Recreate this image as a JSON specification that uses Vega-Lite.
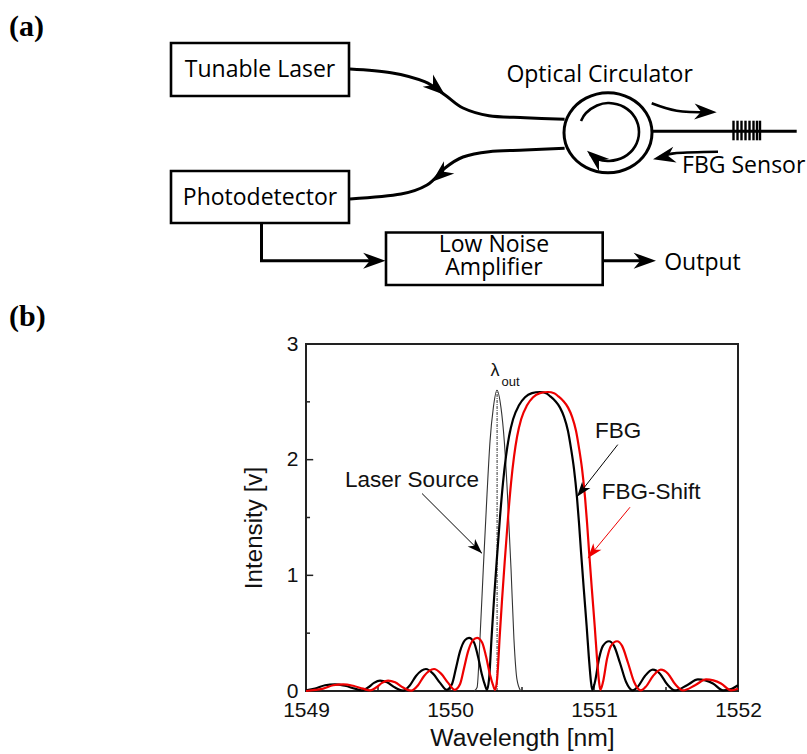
{
"$schema":"https://vega.github.io/schema/vega-lite/v6.json",
"padding":0,
"background":"white",
"autosize":{"type":"pad"},
"bounds":"flush",
"spacing":0,
"config":{"concat":{"spacing":0},"view":{"stroke":null}},
"vconcat":[
{
 "width":807,"height":344,
 "view":{"stroke":null},
 "encoding":{
  "x":{"field":"x","type":"quantitative","axis":null,"scale":{"domain":[0,807],"nice":false,"zero":false}},
  "y":{"field":"y","type":"quantitative","axis":null,"scale":{"domain":[344,0],"nice":false,"zero":false}}
 },
 "layer":[
  {"data":{"values":[
    {"part":"Tunable Laser","x":171,"x2":349,"y":43,"y2":96},
    {"part":"Photodetector","x":171,"x2":349,"y":171,"y2":223},
    {"part":"Low Noise Amplifier","x":386,"x2":602.7,"y":232.5,"y2":285}
   ]},
   "mark":{"type":"rect","fill":"white","stroke":"black","strokeWidth":2.6},
   "encoding":{"x2":{"field":"x2"},"y2":{"field":"y2"}}
  },
  {"data":{"values":[
    {"path":"up","o":0,"x":350,"y":69},{"path":"up","o":1,"x":391,"y":72.7},{"path":"up","o":2,"x":424.6,"y":81.7},{"path":"up","o":3,"x":445,"y":95},{"path":"up","o":4,"x":463,"y":108},{"path":"up","o":5,"x":489,"y":115.7},{"path":"up","o":6,"x":525,"y":117.7},{"path":"up","o":7,"x":564.6,"y":119.3},
    {"path":"low","o":0,"x":564.6,"y":148.3},{"path":"low","o":1,"x":525,"y":150},{"path":"low","o":2,"x":489,"y":151.7},{"path":"low","o":3,"x":463,"y":157},{"path":"low","o":4,"x":445,"y":168},{"path":"low","o":5,"x":427,"y":185},{"path":"low","o":6,"x":401,"y":194},{"path":"low","o":7,"x":350,"y":199}
   ]},
   "mark":{"type":"line","stroke":"black","strokeWidth":3,"interpolate":"cardinal"},
   "encoding":{"detail":{"field":"path"},"order":{"field":"o"}}
  },
  {"data":{"values":[
    {"path":"right","o":0,"x":652.6,"y":131.3},{"path":"right","o":1,"x":796.7,"y":131.3},
    {"path":"pd","o":0,"x":261.5,"y":223},{"path":"pd","o":1,"x":261.5,"y":260.7},{"path":"pd","o":2,"x":375,"y":260.7},
    {"path":"amp","o":0,"x":602.7,"y":260.7},{"path":"amp","o":1,"x":645,"y":260.7}
   ]},
   "mark":{"type":"line","stroke":"black","strokeWidth":3},
   "encoding":{"detail":{"field":"path"},"order":{"field":"o"}}
  },
  {"data":{"values":[
    {"path":"out","o":0,"x":651.7,"y":103.3},{"path":"out","o":1,"x":676.7,"y":110.7},{"path":"out","o":2,"x":710,"y":112.3},
    {"path":"back","o":0,"x":718,"y":151.7},{"path":"back","o":1,"x":676.7,"y":153},{"path":"back","o":2,"x":660,"y":157},
    {"path":"inner","o":0,"x":581,"y":121},{"path":"inner","o":1,"x":586,"y":113},{"path":"inner","o":2,"x":597,"y":105.5},{"path":"inner","o":3,"x":609,"y":103},{"path":"inner","o":4,"x":624,"y":107},{"path":"inner","o":5,"x":635,"y":117.5},{"path":"inner","o":6,"x":639,"y":132},{"path":"inner","o":7,"x":635,"y":146.5},{"path":"inner","o":8,"x":624,"y":157},{"path":"inner","o":9,"x":609,"y":161},{"path":"inner","o":10,"x":597,"y":159},{"path":"inner","o":11,"x":590,"y":154}
   ]},
   "mark":{"type":"line","stroke":"black","strokeWidth":2.6,"interpolate":"cardinal"},
   "encoding":{"detail":{"field":"path"},"order":{"field":"o"}}
  },
  {"data":{"values":[
    {"o":0,"x":652,"y":132.7},{"o":1,"x":646.1,"y":112.7},{"o":2,"x":630,"y":98.1},{"o":3,"x":608,"y":92.7},{"o":4,"x":586,"y":98.1},{"o":5,"x":569.9,"y":112.7},{"o":6,"x":564,"y":132.7},{"o":7,"x":569.9,"y":152.7},{"o":8,"x":586,"y":167.3},{"o":9,"x":608,"y":172.7},{"o":10,"x":630,"y":167.3},{"o":11,"x":646.1,"y":152.7}
   ]},
   "mark":{"type":"line","stroke":"black","strokeWidth":3,"interpolate":"cardinal-closed"},
   "encoding":{"order":{"field":"o"}}
  },
  {"data":{"values":[
    {"x":733.5,"y":120.7,"y2":140.3},{"x":737.5,"y":120.7,"y2":140.3},{"x":741.5,"y":120.7,"y2":140.3},{"x":745.5,"y":120.7,"y2":140.3},{"x":749.5,"y":120.7,"y2":140.3},{"x":753.5,"y":120.7,"y2":140.3},{"x":757,"y":120.7,"y2":140.3},{"x":760,"y":120.7,"y2":140.3}
   ]},
   "mark":{"type":"rule","stroke":"black","strokeWidth":2.4},
   "encoding":{"y2":{"field":"y2"}}
  },
  {"data":{"values":[
    {"x":445,"y":95,"direction":130},{"x":432,"y":181.7,"direction":230},{"x":716.7,"y":112.3,"direction":92},{"x":653,"y":159.3,"direction":258},{"x":587,"y":150.7,"direction":310},{"x":385.5,"y":260.7,"direction":90},{"x":656,"y":260.7,"direction":90}
   ]},
   "mark":{"type":"point","filled":true,"opacity":1,"color":"black","size":500,"shape":"M0,0L0.72,2L0,1.4L-0.72,2Z"},
   "encoding":{"angle":{"field":"direction","type":"quantitative","scale":null}}
  },
  {"data":{"values":[
    {"label":"Tunable Laser","x":260,"y":70},
    {"label":"Optical Circulator","x":599.6,"y":75},
    {"label":"FBG Sensor","x":743.7,"y":166},
    {"label":"Photodetector","x":260,"y":198},
    {"label":"Low Noise\nAmplifier","x":494,"y":245},
    {"label":"Output","x":702.5,"y":263}
   ]},
   "mark":{"type":"text","font":"Open Sans","fontSize":23,"lineHeight":23,"lineBreak":"\n","color":"black","align":"center","baseline":"middle"},
   "encoding":{"text":{"field":"label"}}
  },
  {"data":{"values":[{"label":"(a)","x":9,"y":27},{"label":"(b)","x":9,"y":317}]},
   "mark":{"type":"text","font":"Liberation Serif","fontWeight":"bold","fontSize":30,"color":"black","align":"left","baseline":"middle"},
   "encoding":{"text":{"field":"label"}}
  }
 ]
},
{
 "spacing":0,
 "bounds":"flush",
 "hconcat":[
 {
  "width":306,"height":347,
  "view":{"stroke":null},
  "data":{"values":[]},
  "mark":{"type":"point","opacity":0}
 },
 {
  "width":432,"height":347,
  "view":{"stroke":"#222","strokeWidth":2},
  "encoding":{
   "x":{"field":"w","type":"quantitative","scale":{"domain":[1549,1552],"nice":false,"zero":false},
    "axis":{"title":"Wavelength [nm]","values":[1549,1550,1551,1552],"format":"d","grid":false,"domain":false,"ticks":false,"labelFlush":false,"labelOverlap":false,"labelBound":false,"labelFont":"Liberation Sans","labelFontSize":21,"labelColor":"#111","labelPadding":8,"titleFont":"Liberation Sans","titleFontSize":24.7,"titleFontWeight":"normal","titleColor":"#111","titleY":47,"titleBaseline":"middle"}},
   "y":{"field":"i","type":"quantitative","scale":{"domain":[0,3],"nice":false,"zero":false},
    "axis":{"title":"Intensity [v]","values":[0,1,2,3],"format":"d","grid":false,"domain":false,"ticks":false,"labelFlush":false,"labelOverlap":false,"labelBound":false,"labelFont":"Liberation Sans","labelFontSize":21,"labelColor":"#111","labelPadding":8,"titleFont":"Liberation Sans","titleFontSize":24.2,"titleFontWeight":"normal","titleColor":"#111","titleX":-52,"titleY":183.5,"titleBaseline":"middle"}}
  },
  "layer":[
   {"data":{"values":[{"w":1549.5,"i":0,"i2":0.035},{"w":1550,"i":0,"i2":0.06},{"w":1550.5,"i":0,"i2":0.035},{"w":1551,"i":0,"i2":0.06},{"w":1551.5,"i":0,"i2":0.035}]},
    "mark":{"type":"rule","stroke":"#222","strokeWidth":1.5},
    "encoding":{"y2":{"field":"i2"}}},
   {"data":{"values":[{"w":1549,"w2":1549.028,"i":0.5},{"w":1549,"w2":1549.05,"i":1},{"w":1549,"w2":1549.028,"i":1.5},{"w":1549,"w2":1549.05,"i":2},{"w":1549,"w2":1549.028,"i":2.5}]},
    "mark":{"type":"rule","stroke":"#222","strokeWidth":1.5},
    "encoding":{"x2":{"field":"w2"}}},
   {"data":{"values":[{"w":1550.327,"i":0,"i2":2.6}]},
    "mark":{"type":"rule","stroke":"black","strokeWidth":0.8,"strokeDash":[3,1,1,1]},
    "encoding":{"y2":{"field":"i2"}}},
   {"data":{"values":[
     {"w":1550.167,"i":0},{"w":1550.188,"i":0.03},{"w":1550.208,"i":0.45},{"w":1550.231,"i":1.05},{"w":1550.257,"i":1.7},{"w":1550.278,"i":2.16},{"w":1550.301,"i":2.45},{"w":1550.326,"i":2.6},{"w":1550.354,"i":2.45},{"w":1550.377,"i":2.16},{"w":1550.399,"i":1.7},{"w":1550.424,"i":1.05},{"w":1550.444,"i":0.45},{"w":1550.465,"i":0.1},{"w":1550.491,"i":0}
    ]},
    "mark":{"type":"line","stroke":"#333","strokeWidth":1.1,"interpolate":"monotone"}},
   {"data":{"values":[
     {"w":1549.000,"i":0.005},{"w":1549.063,"i":0.02},{"w":1549.132,"i":0.05},{"w":1549.201,"i":0.058},{"w":1549.271,"i":0.045},{"w":1549.340,"i":0.02},{"w":1549.389,"i":0.005},{"w":1549.431,"i":0.03},{"w":1549.472,"i":0.07},{"w":1549.514,"i":0.09},{"w":1549.563,"i":0.075},{"w":1549.618,"i":0.03},{"w":1549.674,"i":0.003},{"w":1549.722,"i":0.05},{"w":1549.764,"i":0.13},{"w":1549.833,"i":0.19},{"w":1549.882,"i":0.15},{"w":1549.931,"i":0.07},{"w":1549.977,"i":0.01},{"w":1550.014,"i":0.06},{"w":1550.042,"i":0.2},{"w":1550.069,"i":0.34},{"w":1550.104,"i":0.44},{"w":1550.132,"i":0.46},{"w":1550.167,"i":0.42},{"w":1550.194,"i":0.3},{"w":1550.222,"i":0.14},{"w":1550.243,"i":0.05},{"w":1550.257,"i":0.01},{"w":1550.271,"i":0.1},{"w":1550.290,"i":0.49},{"w":1550.306,"i":0.8},{"w":1550.324,"i":1.12},{"w":1550.347,"i":1.5},{"w":1550.368,"i":1.8},{"w":1550.389,"i":2.03},{"w":1550.410,"i":2.2},{"w":1550.438,"i":2.35},{"w":1550.479,"i":2.47},{"w":1550.521,"i":2.54},{"w":1550.569,"i":2.575},{"w":1550.625,"i":2.585},{"w":1550.667,"i":2.575},{"w":1550.694,"i":2.55},{"w":1550.729,"i":2.51},{"w":1550.764,"i":2.45},{"w":1550.792,"i":2.37},{"w":1550.819,"i":2.25},{"w":1550.840,"i":2.1},{"w":1550.861,"i":1.92},{"w":1550.882,"i":1.67},{"w":1550.896,"i":1.45},{"w":1550.910,"i":1.2},{"w":1550.931,"i":0.85},{"w":1550.949,"i":0.56},{"w":1550.965,"i":0.28},{"w":1550.979,"i":0.08},{"w":1550.988,"i":0.01},{"w":1551.007,"i":0.08},{"w":1551.035,"i":0.28},{"w":1551.062,"i":0.39},{"w":1551.104,"i":0.43},{"w":1551.139,"i":0.39},{"w":1551.181,"i":0.24},{"w":1551.222,"i":0.08},{"w":1551.269,"i":0.005},{"w":1551.306,"i":0.04},{"w":1551.354,"i":0.13},{"w":1551.408,"i":0.185},{"w":1551.458,"i":0.15},{"w":1551.507,"i":0.06},{"w":1551.562,"i":0.005},{"w":1551.646,"i":0.05},{"w":1551.722,"i":0.1},{"w":1551.826,"i":0.065},{"w":1551.896,"i":0.005},{"w":1551.958,"i":0.02},{"w":1552,"i":0.05}
    ]},
    "mark":{"type":"line","stroke":"black","strokeWidth":2.2,"interpolate":"monotone"}},
   {"data":{"values":[
     {"w":1549.000,"i":0.0},{"w":1549.063,"i":0.01},{"w":1549.119,"i":0.02},{"w":1549.188,"i":0.05},{"w":1549.257,"i":0.058},{"w":1549.327,"i":0.045},{"w":1549.396,"i":0.02},{"w":1549.445,"i":0.005},{"w":1549.487,"i":0.03},{"w":1549.528,"i":0.07},{"w":1549.570,"i":0.09},{"w":1549.619,"i":0.075},{"w":1549.674,"i":0.03},{"w":1549.730,"i":0.003},{"w":1549.778,"i":0.05},{"w":1549.820,"i":0.13},{"w":1549.889,"i":0.19},{"w":1549.938,"i":0.15},{"w":1549.987,"i":0.07},{"w":1550.033,"i":0.01},{"w":1550.070,"i":0.06},{"w":1550.098,"i":0.2},{"w":1550.125,"i":0.34},{"w":1550.160,"i":0.44},{"w":1550.188,"i":0.46},{"w":1550.223,"i":0.42},{"w":1550.250,"i":0.3},{"w":1550.278,"i":0.14},{"w":1550.299,"i":0.05},{"w":1550.313,"i":0.01},{"w":1550.327,"i":0.1},{"w":1550.346,"i":0.49},{"w":1550.362,"i":0.8},{"w":1550.380,"i":1.12},{"w":1550.403,"i":1.5},{"w":1550.424,"i":1.8},{"w":1550.445,"i":2.03},{"w":1550.466,"i":2.2},{"w":1550.494,"i":2.35},{"w":1550.535,"i":2.47},{"w":1550.577,"i":2.54},{"w":1550.625,"i":2.575},{"w":1550.681,"i":2.585},{"w":1550.723,"i":2.575},{"w":1550.750,"i":2.55},{"w":1550.785,"i":2.51},{"w":1550.820,"i":2.45},{"w":1550.848,"i":2.37},{"w":1550.875,"i":2.25},{"w":1550.896,"i":2.1},{"w":1550.917,"i":1.92},{"w":1550.938,"i":1.67},{"w":1550.952,"i":1.45},{"w":1550.966,"i":1.2},{"w":1550.987,"i":0.85},{"w":1551.005,"i":0.56},{"w":1551.021,"i":0.28},{"w":1551.035,"i":0.08},{"w":1551.044,"i":0.01},{"w":1551.063,"i":0.08},{"w":1551.091,"i":0.28},{"w":1551.118,"i":0.39},{"w":1551.160,"i":0.43},{"w":1551.195,"i":0.39},{"w":1551.237,"i":0.24},{"w":1551.278,"i":0.08},{"w":1551.325,"i":0.005},{"w":1551.362,"i":0.04},{"w":1551.410,"i":0.13},{"w":1551.464,"i":0.185},{"w":1551.514,"i":0.15},{"w":1551.563,"i":0.06},{"w":1551.618,"i":0.005},{"w":1551.702,"i":0.05},{"w":1551.778,"i":0.1},{"w":1551.882,"i":0.065},{"w":1551.952,"i":0.005},{"w":1552,"i":0.02}
    ]},
    "mark":{"type":"line","stroke":"#ee0000","strokeWidth":2.2,"interpolate":"monotone"}},
   {"data":{"values":[{"w":1549.806,"i":1.707,"w2":1550.222,"i2":1.19},{"w":1551.165,"i":2.13,"w2":1550.882,"i2":1.68}]},
    "mark":{"type":"rule","stroke":"black","strokeWidth":1},
    "encoding":{"x2":{"field":"w2"},"y2":{"field":"i2"}}},
   {"data":{"values":[{"w":1551.25,"i":1.589,"w2":1550.958,"i2":1.149}]},
    "mark":{"type":"rule","stroke":"#ee0000","strokeWidth":1},
    "encoding":{"x2":{"field":"w2"},"y2":{"field":"i2"}}},
   {"data":{"values":[{"w":1550.222,"i":1.19,"direction":135},{"w":1550.882,"i":1.68,"direction":218}]},
    "mark":{"type":"point","filled":true,"opacity":1,"color":"black","size":225,"shape":"M0,0L0.7,2L0,1.45L-0.7,2Z"},
    "encoding":{"angle":{"field":"direction","type":"quantitative","scale":null}}},
   {"data":{"values":[{"w":1550.958,"i":1.149,"direction":219}]},
    "mark":{"type":"point","filled":true,"opacity":1,"color":"#ee0000","size":225,"shape":"M0,0L0.7,2L0,1.45L-0.7,2Z"},
    "encoding":{"angle":{"field":"direction","type":"quantitative","scale":null}}},
   {"data":{"values":[{"label":"FBG","w":1551.167,"i":2.25},{"label":"FBG-Shift","w":1551.396,"i":1.724},{"label":"Laser Source","w":1549.736,"i":1.828}]},
    "mark":{"type":"text","font":"Liberation Sans","fontSize":22.5,"color":"#111","align":"center","baseline":"middle"},
    "encoding":{"text":{"field":"label"}}},
   {"data":{"values":[{"label":"λ","w":1550.313,"i":2.767}]},
    "mark":{"type":"text","font":"Liberation Sans","fontSize":18,"color":"#111","align":"center","baseline":"middle"},
    "encoding":{"text":{"field":"label"}}},
   {"data":{"values":[{"label":"out","w":1550.42,"i":2.672}]},
    "mark":{"type":"text","font":"Liberation Sans","fontSize":13,"color":"#111","align":"center","baseline":"middle"},
    "encoding":{"text":{"field":"label"}}}
  ]
 }
 ]
}
]
}
